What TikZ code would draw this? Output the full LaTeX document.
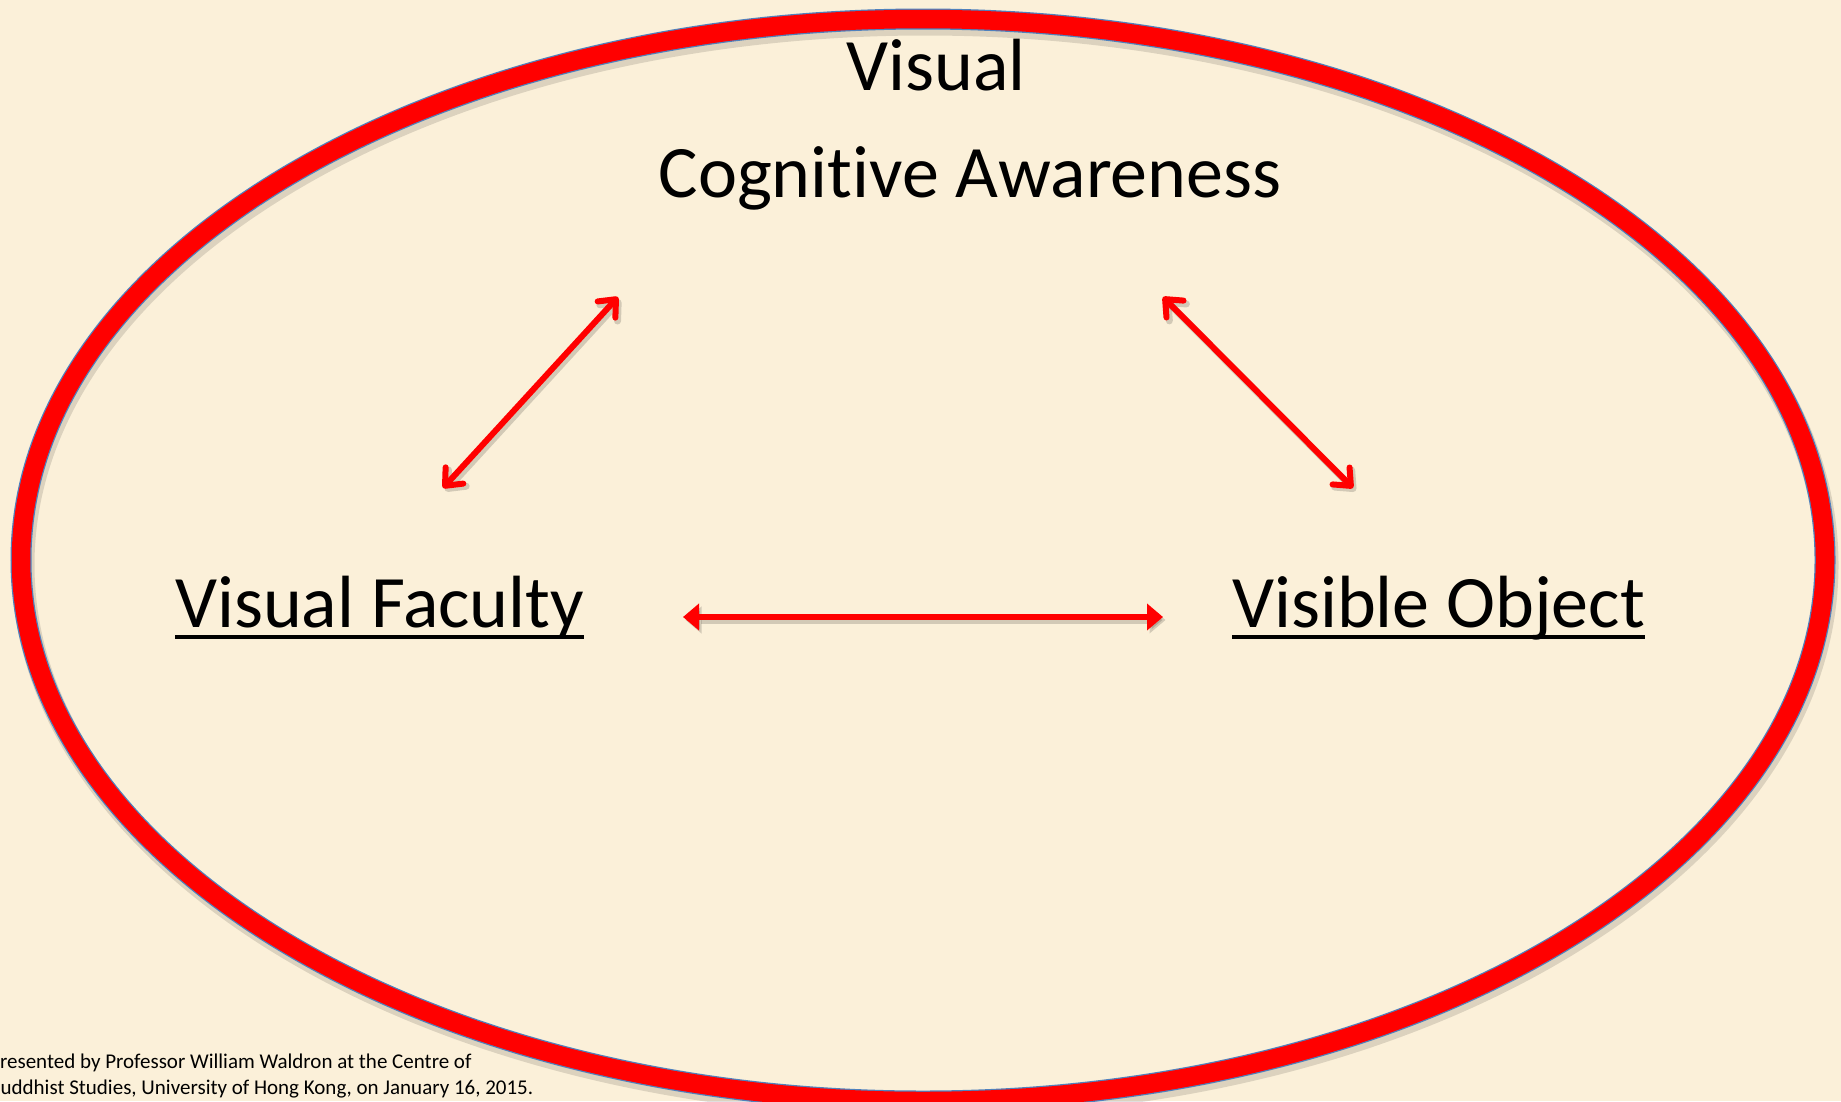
\documentclass[tikz,border=0pt]{standalone}
\usepackage{fontspec}
\setmainfont{Carlito}[Ligatures={NoCommon}]
\usetikzlibrary{arrows.meta}
\definecolor{paper}{HTML}{FBF0D9}
\definecolor{ringred}{HTML}{FF0000}
\definecolor{ringblue}{HTML}{4F81BD}
\begin{document}
\begin{tikzpicture}[x=1pt,y=-1pt,
  bigtext/.style={inner sep=0pt, text=black, font=\fontsize{74}{89}\selectfont},
  notetext/.style={inner sep=0pt, anchor=base west, text=black, font=\fontsize{21}{26}\selectfont},
  ulrule/.style={draw=black, line width=4.5pt},
  link/.style={draw=ringred, line width=6pt},
  linkshadow/.style={draw=black, opacity=0.16, line width=7pt,
    transform canvas={shift={(2.5pt,-3pt)}}},
  barbs/.style={arrows={Straight Barb[length=14pt,width=24pt,line cap=round,line join=round]-Straight Barb[length=14pt,width=24pt,line cap=round,line join=round]}},
  solidheads/.style={arrows={Triangle[length=16pt,width=26pt]-Triangle[length=16pt,width=26pt]}}
]
% page and paper
\useasboundingbox (0,0) rectangle (1841,1101);
\clip (0,0) rectangle (1841,1101);
\fill[paper] (0,0) rectangle (1841,1101);

% the red ring with its thin blue rim and soft shadow
\draw[black, opacity=0.12, line width=23pt] (925,565) ellipse [x radius=902pt, y radius=541pt];
\draw[ringblue, line width=21pt] (923,560) ellipse [x radius=902pt, y radius=541pt];
\draw[ringred, line width=18.5pt] (923,560) ellipse [x radius=902pt, y radius=541pt];

% labels
\node[bigtext, anchor=base] (vis) at (936,90) {Visual};
\node[bigtext, anchor=base] (cog) at (970,197) {Cognitive Awareness};
\node[bigtext, anchor=base west] (fac) at (175,627) {Visual Faculty};
\node[bigtext, anchor=base west] (obj) at (1232,627) {Visible Object};
\draw[ulrule] ([yshift=-10pt]fac.base west) -- ([yshift=-10pt]fac.base east);
\draw[ulrule] ([yshift=-10pt]obj.base west) -- ([yshift=-10pt]obj.base east);

% arrow end points
\coordinate (fl) at (443,488);
\coordinate (fu) at (618,297);
\coordinate (ou) at (1163,297);
\coordinate (ol) at (1353,488);
\coordinate (hl) at (683,617);
\coordinate (hr) at (1163,617);

% double-headed arrows
\draw[linkshadow, barbs] (fl) -- (fu);
\draw[linkshadow, barbs] (ou) -- (ol);
\draw[linkshadow, solidheads] (hl) -- (hr);
\draw[link, barbs] (fl) -- (fu);
\draw[link, barbs] (ou) -- (ol);
\draw[link, solidheads, fill=ringred] (hl) -- (hr);

% credit line, running off the left edge of the page
\node[notetext] (n1) at (-11,1068) {Presented by Professor William Waldron at the Centre of};
\node[notetext] (n2) at (-11,1094) {Buddhist Studies, University of Hong Kong, on January 16, 2015.};
\end{tikzpicture}
\end{document}
